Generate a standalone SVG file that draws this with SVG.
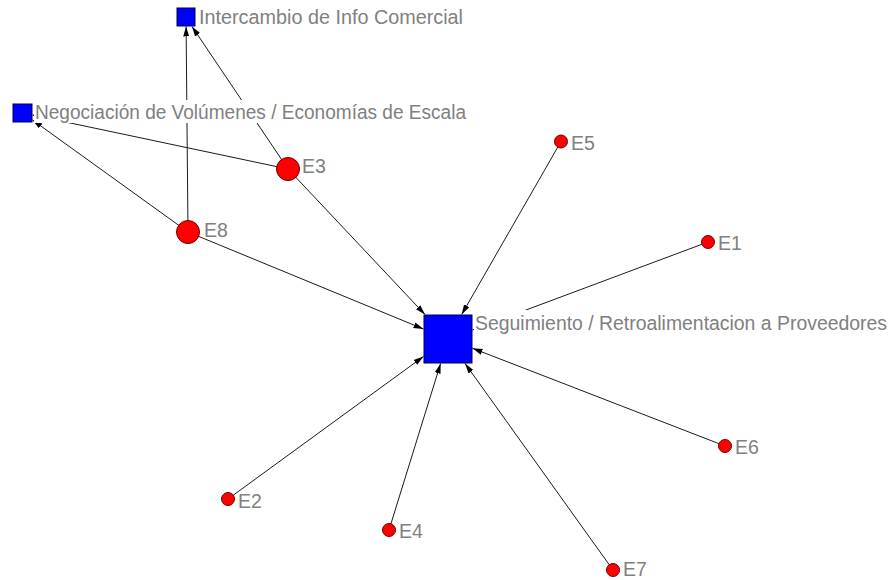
<svg xmlns="http://www.w3.org/2000/svg" width="890" height="580" viewBox="0 0 890 580">
<style>
.edge{stroke:#1a1a1a;stroke-width:1;fill:none;marker-end:url(#arr)}
.sq{fill:#0000ff;stroke:#000050;stroke-width:1}
.dot{fill:#ff0000;stroke:#700000;stroke-width:1}
.lbl{font-family:"Liberation Sans",Arial,sans-serif;font-size:19.5px;fill:#808080}
.bg{fill:#ffffff}
</style>
<defs>
<marker id="arr" markerUnits="userSpaceOnUse" markerWidth="10" markerHeight="8" viewBox="0 0 10 8" refX="10" refY="4" orient="auto">
<path d="M0,1 L10,4 L0,7 Z" fill="#000"/>
</marker>
</defs>
<rect width="890" height="580" fill="#ffffff"/>
<g id="connectors">
<line class="edge" x1="188" y1="232" x2="186.1" y2="26.5"/>
<line class="edge" x1="288" y1="169" x2="192" y2="26.5"/>
<line class="edge" x1="188" y1="232" x2="32.5" y2="120"/>
<line class="edge" x1="288" y1="169" x2="32.5" y2="115"/>
<line class="edge" x1="188" y1="232" x2="423.5" y2="329"/>
<line class="edge" x1="288" y1="169" x2="425" y2="314.5"/>
<line class="edge" x1="561" y1="141.5" x2="461.7" y2="314.5"/>
<line class="edge" x1="708" y1="242" x2="472.5" y2="330"/>
<line class="edge" x1="725" y1="446" x2="472.5" y2="348.3"/>
<line class="edge" x1="613" y1="570" x2="465.1" y2="363.5"/>
<line class="edge" x1="389" y1="530" x2="440.6" y2="363.5"/>
<line class="edge" x1="228" y1="499" x2="423.5" y2="356.5"/>
</g>
<g id="node-intercambio">
<rect class="sq" x="177" y="8" width="18" height="18"/>
<rect class="bg" x="198" y="4" width="268" height="24"/>
<text class="lbl" x="199" y="24" textLength="264" lengthAdjust="spacingAndGlyphs">Intercambio de Info Comercial</text>
</g>
<g id="node-negociacion">
<rect class="sq" x="13" y="104" width="19" height="18"/>
<rect class="bg" x="34" y="100" width="434" height="23"/>
<text class="lbl" x="35" y="119" textLength="431" lengthAdjust="spacingAndGlyphs">Negociación de Volúmenes / Economías de Escala</text>
</g>
<g id="node-seguimiento">
<rect class="sq" x="424" y="315" width="48" height="48"/>
<rect class="bg" x="474" y="310" width="414" height="24"/>
<text class="lbl" x="475" y="330" textLength="412" lengthAdjust="spacingAndGlyphs">Seguimiento / Retroalimentacion a Proveedores</text>
</g>
<g id="node-E3">
<circle class="dot" cx="288" cy="169" r="11.5"/>
<text class="lbl" x="302" y="173">E3</text>
</g>
<g id="node-E8">
<circle class="dot" cx="188" cy="232" r="11.5"/>
<text class="lbl" x="204" y="237">E8</text>
</g>
<g id="node-E5">
<circle class="dot" cx="561" cy="141.5" r="6.5"/>
<text class="lbl" x="571" y="150">E5</text>
</g>
<g id="node-E1">
<circle class="dot" cx="708" cy="242" r="6.5"/>
<text class="lbl" x="718" y="250">E1</text>
</g>
<g id="node-E6">
<circle class="dot" cx="725" cy="446" r="6.5"/>
<text class="lbl" x="735" y="454">E6</text>
</g>
<g id="node-E2">
<circle class="dot" cx="228" cy="499" r="6.5"/>
<text class="lbl" x="238" y="508">E2</text>
</g>
<g id="node-E4">
<circle class="dot" cx="389" cy="530" r="6.5"/>
<text class="lbl" x="399" y="538">E4</text>
</g>
<g id="node-E7">
<circle class="dot" cx="613" cy="570" r="6.5"/>
<text class="lbl" x="623" y="576">E7</text>
</g>
</svg>
